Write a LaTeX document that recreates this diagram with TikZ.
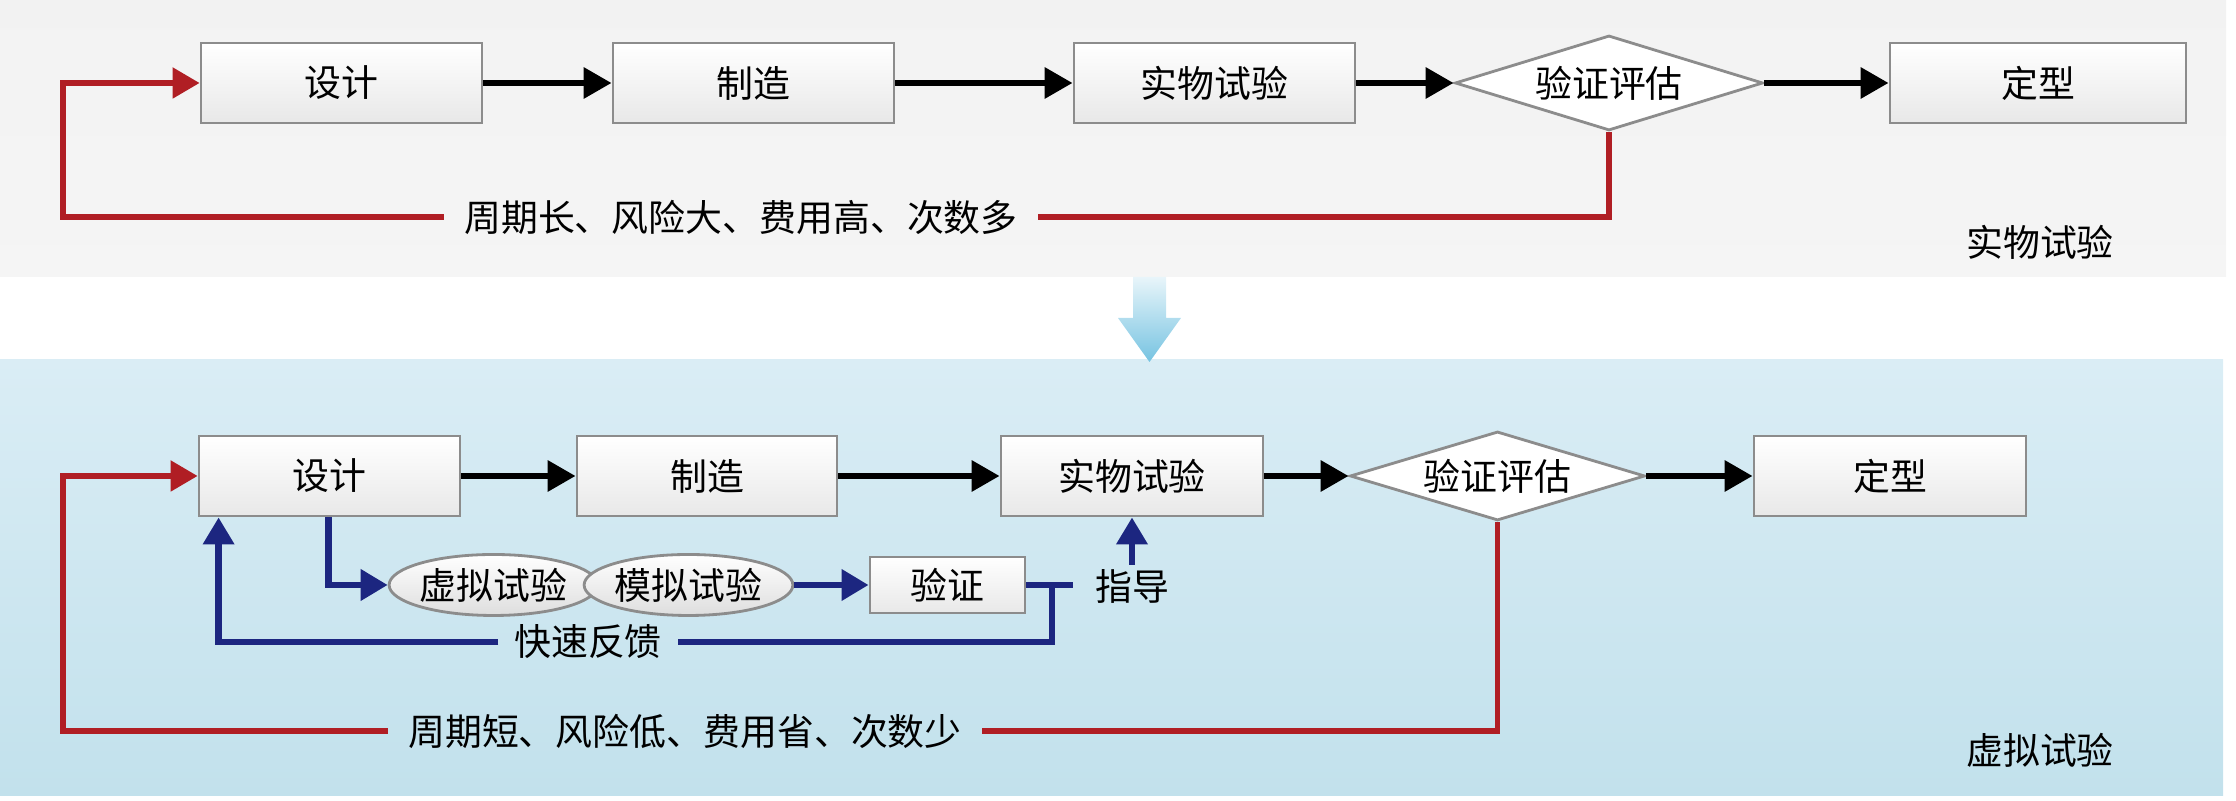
\documentclass[tikz,border=0pt]{standalone}
\usepackage{fontspec}
\newfontfamily\cjk{Noto Sans CJK SC}
\usetikzlibrary{shapes.geometric,arrows.meta}

\definecolor{linkred}{RGB}{176,30,36}
\definecolor{linkblue}{RGB}{28,38,128}
\definecolor{boxline}{RGB}{140,140,140}
\definecolor{skytop}{RGB}{218,237,245}
\definecolor{skybot}{RGB}{194,225,236}
\definecolor{arrowtop}{RGB}{232,245,250}
\definecolor{arrowbot}{RGB}{118,195,225}

\tikzset{
  txt/.style={font=\cjk\fontsize{10.5pt}{12pt}\selectfont},
  stage/.style={txt, draw=boxline, line width=0.8pt, top color=white, bottom color=black!9, minimum height=0.8cm, inner sep=0pt},
  check/.style={txt, diamond, draw=boxline, line width=0.8pt, fill=white, inner sep=0pt, aspect=3},
  trial/.style={txt, ellipse, draw=boxline, line width=0.8pt, top color=white, bottom color=black!13, minimum width=2.05cm, minimum height=0.61cm, inner sep=0pt},
  flow/.style={line width=1.8pt, -{Triangle[length=0.28cm,width=0.3cm]}},
  slow/.style={linkred, line width=1.5pt},
  fast/.style={linkblue, line width=1.9pt},
  tip/.style={-{Triangle[length=0.27cm,width=0.3cm]}},
}

\begin{document}
\begin{tikzpicture}
\useasboundingbox (0,0) rectangle (22.36,-8.01);

% Panels
\shade[top color=black!5, middle color=black!1, bottom color=black!4] (0,0) rectangle (22.26,-2.77);
\shade[top color=skytop, bottom color=skybot] (0,-3.6) rectangle (22.23,-7.96);
\shade[top color=arrowtop, bottom color=arrowbot] (11.33,-2.77) -- (11.66,-2.77) -- (11.66,-3.18) -- (11.81,-3.18)
  -- (11.495,-3.62) -- (11.18,-3.18) -- (11.33,-3.18) -- cycle;

% Top row nodes
\node[stage, minimum width=2.81cm] (sj1) at (3.415,-0.83) {设计};
\node[stage, minimum width=2.81cm] (zz1) at (7.535,-0.83) {制造};
\node[stage, minimum width=2.81cm] (ss1) at (12.145,-0.83) {实物试验};
\node[check, minimum width=3.08cm, minimum height=0.95cm] (pg1) at (16.09,-0.83) {验证评估};
\node[stage, minimum width=2.96cm] (dx1) at (20.38,-0.83) {定型};

% Top row links
\draw[flow] (sj1) -- (zz1);
\draw[flow] (zz1) -- (ss1);
\draw[flow] (ss1) -- (pg1);
\draw[flow] (pg1) -- (dx1);

% Top loop
\coordinate (cA) at (0.63,-2.17);
\node[txt, inner xsep=0.2cm] (lA) at (7.41,-2.17) {周期长、风险大、费用高、次数多};
\draw[slow] (pg1.south) |- (lA.east);
\draw[slow,tip] (lA.west) -- (cA) |- (sj1.west);
\node[txt] (tagA) at (20.4,-2.42) {实物试验};

% Bottom row nodes
\node[stage, minimum width=2.61cm] (sj2) at (3.295,-4.76) {设计};
\node[stage, minimum width=2.60cm] (zz2) at (7.07,-4.76) {制造};
\node[stage, minimum width=2.62cm] (ss2) at (11.32,-4.76) {实物试验};
\node[check, minimum width=2.95cm, minimum height=0.89cm] (pg2) at (14.975,-4.76) {验证评估};
\node[stage, minimum width=2.72cm] (dx2) at (18.9,-4.76) {定型};

% Bottom row links
\draw[flow] (sj2) -- (zz2);
\draw[flow] (zz2) -- (ss2);
\draw[flow] (ss2) -- (pg2);
\draw[flow] (pg2) -- (dx2);

% Virtual loop
\node[trial] (xn) at (4.935,-5.85) {虚拟试验};
\node[trial] (mn) at (6.885,-5.85) {模拟试验};
\node[stage, minimum width=1.55cm, minimum height=0.56cm] (yz) at (9.475,-5.85) {验证};
\draw[fast,tip] ([xshift=1.31cm]sj2.south west) |- (xn.west);
\draw[fast,tip] (mn.east) -- (yz.west);
\coordinate (tEnd) at (10.73,-5.85);
\coordinate (tJoint) at (10.52,-5.85);
\draw[fast] (yz.east) -- (tEnd);
\node[txt, inner xsep=0.15cm] (kf) at (5.88,-6.42) {快速反馈};
\draw[fast] (tJoint) |- (kf.east);
\draw[fast,tip] (kf.west) -| ([xshift=0.21cm]sj2.south west);
\node[txt, inner sep=1pt] (zd) at (11.32,-5.86) {指导};
\draw[fast,tip] (zd.north) -- (zd.north |- ss2.south);

% Bottom loop
\coordinate (cB) at (0.63,-7.31);
\node[txt, inner xsep=0.2cm] (lB) at (6.85,-7.31) {周期短、风险低、费用省、次数少};
\draw[slow] (pg2.south) |- (lB.east);
\draw[slow,tip] (lB.west) -- (cB) |- (sj2.west);
\node[txt] (tagB) at (20.4,-7.5) {虚拟试验};

\end{tikzpicture}
\end{document}
